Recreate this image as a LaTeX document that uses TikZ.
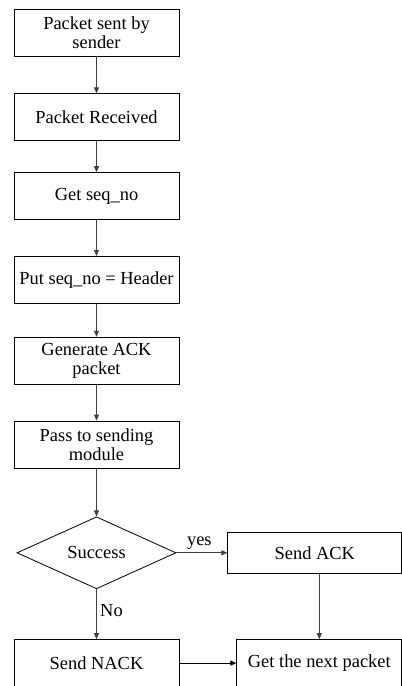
\documentclass[tikz,border=0pt]{standalone}
\usepackage{fontspec}
\setmainfont{Liberation Serif}
\usetikzlibrary{arrows.meta, positioning, shapes.geometric}

\begin{document}
\begin{tikzpicture}[>={Stealth[inset=0pt, length=6bp, width=5bp]}, line width=0.8bp,
    box/.style={draw, minimum width=165bp, minimum height=47bp, align=center, inner sep=2bp, font=\fontsize{18.5}{19.5}\selectfont},
    flow/.style={->, draw=black!75}]
    \useasboundingbox (0,0) rectangle (402bp,-686bp);
    % Các khối chính, xếp dọc bằng thư viện positioning
    \node[box] (sent) at (96.5bp,-32.5bp) {Packet sent by\\sender};
    \node[box, below=37bp of sent] (recv) {Packet Received};
    \node[box, below=31bp of recv] (seq) {Get seq\_no};
    \node[box, below=36bp of seq] (hdr) {Put seq\_no = Header};
    \node[box, below=33bp of hdr] (gen) {Generate ACK\\packet};
    \node[box, below=36bp of gen] (pass) {Pass to sending\\module};
    \node[draw, diamond, aspect=2.2, inner sep=0pt, minimum width=159bp, minimum height=72bp, font=\fontsize{18.5}{19.5}\selectfont, below=48bp of pass] (ok) {Success};
    \node[box, minimum width=174bp, minimum height=41bp, right=51bp of ok] (ack) {Send ACK};
    \node[box, below=50bp of ok] (nack) {Send NACK};
    \node[box, right=57bp of nack] (next) {Get the next packet};

    % Vẽ mũi tên
    \draw[flow] (sent) -- (recv);
    \draw[flow] (recv) -- (seq);
    \draw[flow] (seq) -- (hdr);
    \draw[flow] (hdr) -- (gen);
    \draw[flow] (gen) -- (pass);
    \draw[flow] (pass) -- (ok);
    \draw[flow] (ok) -- node[above, pos=0.45, font=\fontsize{18.5}{19.5}\selectfont] {yes} (ack);
    \draw[flow] (ok) -- node[right, pos=0.42, font=\fontsize{18.5}{19.5}\selectfont] {No} (nack);
    \draw[flow] (ack.south -| next) -- (next);
    \draw[->, draw=black] (nack) -- (next);
\end{tikzpicture}
\end{document}
